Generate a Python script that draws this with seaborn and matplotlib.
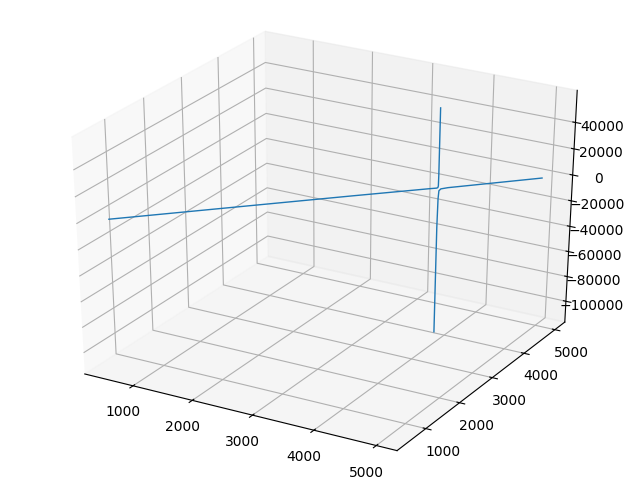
import matplotlib
matplotlib.use("Agg")
import seaborn as sns
from matplotlib import pyplot as plt

# two branches of the curve
left_x = [500, 3000, 3800, 3880, 3893, 3898, 3900, 3902]
left_y = [500, 3000, 3800, 3880, 3893, 3898, 3900, 3902]
left_z = [1000, 600, 300, 200, 500, 1700, 10000, 60400]

right_x = [3888, 3892, 3898, 3905, 3925, 4000, 5000]
right_y = [3888, 3892, 3898, 3905, 3925, 4000, 5000]
right_z = [-113400, -30000, -8000, -2000, -700, -300, 0]

z_ticks = [-100000, -80000, -60000, -40000, -20000, 0, 20000, 40000]

sns.reset_orig()
color = sns.color_palette("tab10")[0]

fig = plt.figure(figsize=(6.4, 4.8), dpi=100)
ax = fig.add_axes([0, 0, 1, 1], projection="3d")
# old style 3d axes: a plain cube stretched over the whole figure
ax.set_box_aspect((1, 1, 1), zoom=0.947)
ax.apply_aspect = lambda position=None: None
ax.plot(left_x, left_y, left_z, color=color, linewidth=1)
ax.plot(right_x, right_y, right_z, color=color, linewidth=1)
ax.set_zticks(z_ticks)

fig.savefig("out.png", dpi=100)
